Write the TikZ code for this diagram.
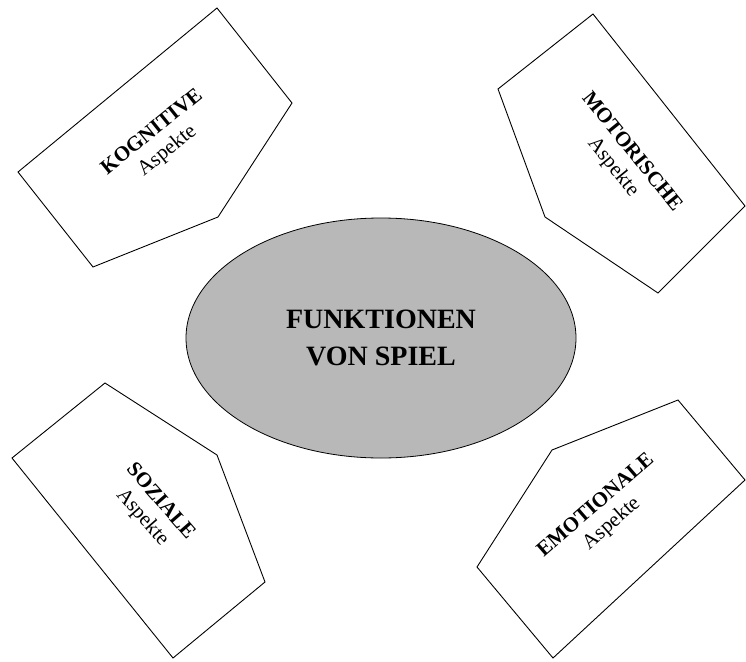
\documentclass[tikz,border=0pt]{standalone}
\usepackage{fontspec}
\setmainfont{Liberation Serif}
\usetikzlibrary{shapes.geometric}
\begin{document}
\begin{tikzpicture}[x=1pt,y=-1pt,
  panel/.style={draw=black,line width=0.9pt,fill=white,line join=miter},
  lbl/.style={align=center,font=\fontsize{21}{24}\selectfont,inner sep=0pt},
  titlefont/.style={align=center,font=\fontsize{28}{37}\selectfont\bfseries,inner sep=0pt}]
\useasboundingbox (0,0) rectangle (746,661);
\fill[white] (0,0) rectangle (746,661);
% center ellipse
\node[draw=black,line width=0.8pt,fill={rgb,255:red,184;green,184;blue,184},
      ellipse,minimum width=390pt,minimum height=240pt,inner sep=0pt] (core) at (381,338) {};
\node[titlefont] (coretext) at (381,338) {FUNKTIONEN\\VON SPIEL};
% pentagons
\draw[panel] (217,8) -- (292,103) -- (218,217) -- (93,267) -- (18,172) -- cycle;
\draw[panel] (593,14) -- (745,206) -- (658,293) -- (545,217) -- (498,89) -- cycle;
\draw[panel] (105,383) -- (217,455) -- (265,582) -- (173,658) -- (12,458) -- cycle;
\draw[panel] (678,400) -- (745,480) -- (553,658) -- (477,567) -- (552,450) -- cycle;
% labels
\node[lbl,rotate=39] (kog) at (160,142) {\textbf{KOGNITIVE}\\Aspekte};
\node[lbl,rotate=-51] (mot) at (622,160) {\textbf{MOTORISCHE}\\Aspekte};
\node[lbl,rotate=-49] (soz) at (151,510) {\textbf{SOZIALE}\\Aspekte};
\node[lbl,rotate=41] (emo) at (604,515) {\textbf{EMOTIONALE}\\Aspekte};
\end{tikzpicture}
\end{document}
